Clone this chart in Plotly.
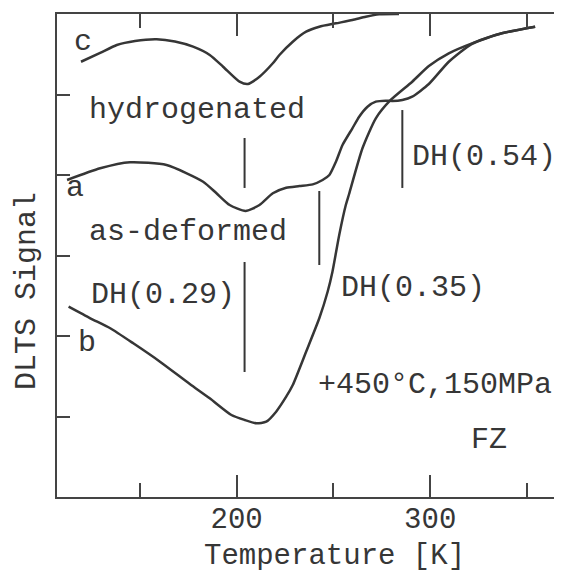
import plotly.graph_objects as go

# ---- data ----
temp_c = [119.6, 129.5, 138.1, 147.5, 158.7, 168.1, 177.5, 186.1, 193.0, 201.5, 205.8, 211.8,
          218.7, 222.1, 229.0, 235.9, 242.7, 251.3, 259.8, 266.7, 273.6, 283.9]
signal_c = [5.407, 5.516, 5.615, 5.665, 5.686, 5.658, 5.594, 5.491, 5.345, 5.159, 5.130, 5.221,
            5.388, 5.491, 5.656, 5.780, 5.842, 5.884, 5.925, 5.966, 5.996, 6.0]

temp_a = [112.4, 129.5, 144.9, 163.8, 182.7, 189.6, 196.4, 204.6, 211.8, 218.7, 225.6, 232.4,
          239.3, 244.4, 247.9, 251.3, 254.7, 259.8, 263.3, 267.6, 271.9, 277.0, 280.4, 285.6,
          290.7, 299.3, 309.6, 321.4, 337.0, 354.2]
signal_a = [3.938, 4.083, 4.158, 4.124, 3.917, 3.773, 3.627, 3.553, 3.627, 3.773, 3.842, 3.863,
            3.884, 3.938, 4.000, 4.165, 4.373, 4.580, 4.724, 4.848, 4.911, 4.923, 4.919, 4.932,
            4.973, 5.130, 5.407, 5.627, 5.760, 5.842]

temp_b = [113.2, 124.4, 134.7, 146.6, 160.4, 175.8, 186.1, 197.3, 204.1, 210.1, 215.3, 220.4,
          225.6, 229.0, 235.9, 242.7, 247.0, 249.5, 253.0, 256.4, 258.1, 265.0, 271.9, 279.6,
          290.7, 299.3, 309.6, 321.6, 337.0, 354.2]
signal_b = [2.364, 2.220, 2.096, 1.909, 1.681, 1.404, 1.226, 1.019, 0.957, 0.916, 0.935, 1.060,
            1.246, 1.391, 1.805, 2.220, 2.550, 2.799, 3.255, 3.627, 3.764, 4.332, 4.704, 4.932,
            5.159, 5.354, 5.512, 5.636, 5.760, 5.842]

# DH level markers: temperature and vertical extent (signal units)
dh_temps = [204.1, 204.1, 242.7, 285.6]
dh_bottom = [3.839, 1.553, 2.882, 3.839]
dh_top = [4.460, 2.919, 3.801, 4.807]

x_ticks = [200, 300]
x_minor = [150, 250, 350]
y_ticks = [1, 2, 3, 4, 5]

# ---- figure ----
INK = "#363636"
FRAME = "#444444"
FONT = "Liberation Mono"
FS = 30

fig = go.Figure()
for t, s in [(temp_c, signal_c), (temp_a, signal_a), (temp_b, signal_b)]:
    fig.add_trace(go.Scatter(x=t, y=s, mode="lines",
                             line=dict(color=INK, width=2.5, shape="spline", smoothing=0.6),
                             hoverinfo="skip", showlegend=False))

for t, y0, y1 in zip(dh_temps, dh_bottom, dh_top):
    fig.add_trace(go.Scatter(x=[t, t], y=[y0, y1], mode="lines",
                             line=dict(color=INK, width=2), hoverinfo="skip", showlegend=False))

texts = [
    ("c", 120.8, 5.652, "center"),
    ("hydrogenated", 122.8, 4.807, "left"),
    ("a", 116.6, 3.839, "center"),
    ("as-deformed", 122.8, 3.292, "left"),
    ("DH(0.29)", 200.0, 2.509, "right"),
    ("b", 122.8, 1.913, "center"),
    ("DH(0.35)", 253.0, 2.596, "left"),
    ("DH(0.54)", 289.5, 4.224, "left"),
    ("+450°C,150MPa", 241.2, 1.391, "left"),
    ("FZ", 330.2, 0.708, "center"),
]
for txt, x, y, xa in texts:
    fig.add_annotation(x=x, y=y, xref="x", yref="y", text=txt, showarrow=False,
                       xanchor=xa, yanchor="middle",
                       font=dict(family=FONT, size=FS, color=INK))

fig.add_annotation(x=0.554, y=-0.123, xref="paper", yref="paper", text="Temperature [K]",
                   showarrow=False, xanchor="center", yanchor="middle",
                   font=dict(family=FONT, size=29, color=INK))
fig.add_annotation(x=-0.06, y=0.4265, xref="paper", yref="paper", text="DLTS Signal",
                   textangle=-90, showarrow=False, xanchor="center", yanchor="middle",
                   font=dict(family=FONT, size=FS, color=INK))

fig.update_xaxes(range=[107.2, 365.5], tickvals=x_ticks, ticktext=[str(v) for v in x_ticks],
                 ticks="inside", ticklen=22, tickwidth=2, tickcolor=FRAME,
                 minor=dict(tickvals=x_minor, ticks="inside", ticklen=14, tickwidth=2,
                            tickcolor=FRAME),
                 showline=True, linecolor=FRAME, linewidth=2, mirror="ticks",
                 showgrid=False, zeroline=False, ticklabelstandoff=-6,
                 tickfont=dict(family=FONT, size=29, color=INK))
fig.update_yaxes(range=[0, 6], tickvals=y_ticks, showticklabels=False,
                 ticks="inside", ticklen=13, tickwidth=2, tickcolor=FRAME,
                 showline=True, linecolor=FRAME, linewidth=2, mirror=True,
                 showgrid=False, zeroline=False)

# the page body adds an 8px offset, so the figure is sized/placed to fit the 562px window
fig.update_layout(width=554, height=572, margin=dict(l=49, r=3, t=6, b=83),
                  paper_bgcolor="white", plot_bgcolor="white")

fig.write_html("out.html")
